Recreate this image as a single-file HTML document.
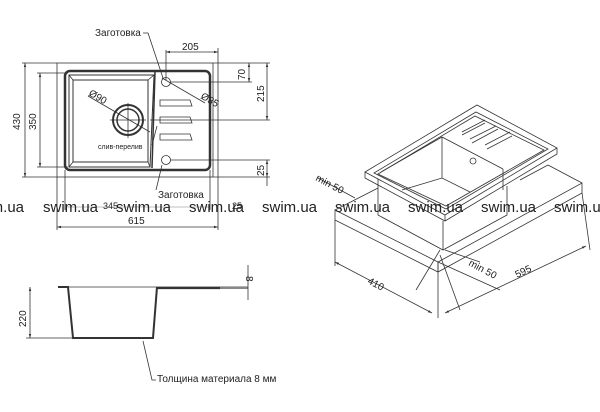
<!DOCTYPE html>
<html><head><meta charset="utf-8"><style>
html,body{margin:0;padding:0;background:#fff;width:600px;height:412px;overflow:hidden}
svg{display:block}
text{font-family:"Liberation Sans",sans-serif;fill:#222}
</style></head><body>
<svg width="600" height="412" viewBox="0 0 600 412" xmlns="http://www.w3.org/2000/svg">
<defs><marker id="a" markerWidth="6" markerHeight="6" refX="5" refY="3" orient="auto-start-reverse"><path d="M0,1.5 L5,3 L0,4.5 z" fill="#333"/></marker></defs>
<g stroke="#333" fill="none" stroke-width="0.8">
<rect x="57" y="63" width="156" height="114"/>
<rect x="65" y="71" width="145" height="99" rx="5" stroke-width="2.5"/>
<path d="M69,75 H154 L150,167 H69 Z" stroke-width="1"/>
<path d="M73,80 H148 V162 H73 Z" stroke-width="1"/>
<path d="M69,75 L73,80 M154,75 L148,80 M69,167 L73,162 M150,167 L148,162"/>
<line x1="155" y1="72" x2="152" y2="168" stroke-width="1.5"/>
<circle cx="128" cy="120" r="15" stroke-width="2"/>
<circle cx="128" cy="120" r="11" stroke-width="1.5"/>
<line x1="88" y1="96" x2="150" y2="132"/>
<line x1="128" y1="103" x2="128" y2="138"/>
<line x1="110" y1="120" x2="146" y2="120"/>
<circle cx="166" cy="82" r="4.5"/><circle cx="166" cy="160" r="4.5"/>
<path d="M160,100 H190 L192,106 H160 Z"/>
<path d="M160,117 H190 L192,123 H160 Z"/>
<path d="M160,134 H190 L192,140 H160 Z"/>
<path d="M154,100 v12"/>
<line x1="166" y1="52" x2="218" y2="52" marker-start="url(#a)" marker-end="url(#a)"/>
<line x1="218" y1="48" x2="218" y2="230"/>
<line x1="166" y1="50" x2="166" y2="80"/>
<line x1="213" y1="63" x2="270" y2="63"/>
<line x1="170" y1="82" x2="252" y2="82"/>
<line x1="150" y1="120" x2="270" y2="120"/>
<line x1="170" y1="160" x2="270" y2="160"/>
<line x1="213" y1="177" x2="270" y2="177"/>
<line x1="249" y1="63" x2="249" y2="82" marker-start="url(#a)" marker-end="url(#a)"/>
<line x1="267" y1="63" x2="267" y2="120" marker-start="url(#a)" marker-end="url(#a)"/>
<line x1="267" y1="160" x2="267" y2="177" marker-start="url(#a)" marker-end="url(#a)"/>
<line x1="267" y1="177" x2="267" y2="186"/>
<line x1="25" y1="63" x2="25" y2="177" marker-start="url(#a)" marker-end="url(#a)"/>
<line x1="22" y1="63" x2="57" y2="63"/><line x1="22" y1="177" x2="57" y2="177"/>
<line x1="40" y1="73" x2="40" y2="167" marker-start="url(#a)" marker-end="url(#a)"/>
<line x1="37" y1="73" x2="68" y2="73"/><line x1="37" y1="167" x2="68" y2="167"/>
<line x1="57" y1="177" x2="57" y2="230"/>
<line x1="65" y1="170" x2="65" y2="210"/>
<line x1="57" y1="227" x2="218" y2="227" marker-start="url(#a)" marker-end="url(#a)"/>
<line x1="65" y1="207" x2="210" y2="207" stroke="#aaa"/>
<line x1="210" y1="170" x2="210" y2="210"/>
<path d="M143,33 H148 L163,78"/>
<path d="M156,190 L162,165"/>
<path d="M152,145 L157,126"/>
<line x1="162" y1="78" x2="205" y2="103"/>
<line x1="58" y1="287" x2="248" y2="287"/>
<path d="M58,287 H68 L73,338 H153 L157,287" stroke-width="2"/>
<line x1="157" y1="288" x2="220" y2="288" stroke-width="2.2"/>
<line x1="220" y1="288" x2="248" y2="288" stroke="#888" stroke-width="2"/>
<line x1="26" y1="338" x2="73" y2="338"/>
<line x1="30" y1="287" x2="30" y2="338" marker-start="url(#a)" marker-end="url(#a)"/>
<line x1="248" y1="265" x2="248" y2="300"/>
<path d="M143,341 L152,380 H156"/>
<path d="M335,210 L438,262 L582,183 L582,193 L438,272 L335,220 Z" fill="#fff"/>
<line x1="438" y1="262" x2="438" y2="272"/>
<path d="M335,210 L380,187 M582,183 L548,165"/>
<path d="M380,187 L390,192 M548,165 L520,180"/>
<path d="M378,178 V215 L443,250 L507,215 V186" fill="#fff"/>
<line x1="443" y1="221" x2="443" y2="250"/>
<path d="M365,172 L477,105 L557,148 L445,215 Z" fill="#fff"/>
<path d="M365,172 V178 L445,221 L557,154 V148"/>
<line x1="445" y1="215" x2="445" y2="221"/>
<path d="M374,173 L476,112 L548,149 L446,209 Z"/>
<path d="M378,174 L475,116 L544,150 L446,206 Z"/>
<path d="M381,172 L442,137 L503,169"/>
<line x1="442" y1="137" x2="442" y2="178"/>
<path d="M402,190 L442,178 L470,192"/>
<line x1="503" y1="169" x2="503" y2="190"/>
<circle cx="473" cy="161" r="3"/>
<path d="M462,132 L485,120 M470,139 L496,126 M485,145 L510,132 M462,135 L485,123 M472,143 L498,129 M487,149 L512,136"/>
<line x1="318" y1="178" x2="355" y2="198"/>
<line x1="335" y1="262" x2="432" y2="313" marker-start="url(#a)" marker-end="url(#a)"/>
<line x1="335" y1="220" x2="335" y2="266"/>
<line x1="438" y1="262" x2="438" y2="318"/>
<line x1="445" y1="313" x2="586" y2="246" marker-start="url(#a)" marker-end="url(#a)"/>
<line x1="582" y1="193" x2="590" y2="250"/>
<path d="M438,262 L500,290 M445,250 L480,262"/>
<line x1="416" y1="290" x2="440" y2="250"/>
<line x1="460" y1="310" x2="440" y2="255"/>
</g>
<g font-size="10">
<text x="95" y="36">Заготовка</text>
<text x="158" y="198">Заготовка</text>
<text x="98" y="149" font-size="7">слив-перелив</text>
<text x="182" y="50">205</text>
<text x="128" y="224">615</text>
<text x="200" y="98" transform="rotate(30 200 98)">Ø35</text>
<text x="88" y="95" transform="rotate(30 88 95)">Ø90</text>
<text x="20" y="130" transform="rotate(-90 20 130)">430</text>
<text x="36" y="130" transform="rotate(-90 36 130)">350</text>
<text x="245" y="80" transform="rotate(-90 245 80)">70</text>
<text x="264" y="102" transform="rotate(-90 264 102)">215</text>
<text x="264" y="176" transform="rotate(-90 264 176)">25</text>
<text x="26" y="327" transform="rotate(-90 26 327)">220</text>
<text x="246" y="276" transform="rotate(90 246 276)">8</text>
<text x="157" y="382">Толщина материала 8 мм</text>
<text x="315" y="180" transform="rotate(28 315 180)">min 50</text>
<text x="468" y="265" transform="rotate(28 468 265)">min 50</text>
<text x="367" y="283" transform="rotate(28 367 283)">410</text>
<text x="517" y="278" transform="rotate(-25 517 278)">595</text>
<text x="103" y="209" fill="#aaa" font-size="9">345</text>
<text x="232" y="209" fill="#aaa" font-size="9">25</text>
</g>
<g font-size="15">
<text x="-31" y="212" fill="#666">swim.ua</text>
<text x="43" y="212" fill="#666">swim.ua</text>
<text x="116" y="212" fill="#666">swim.ua</text>
<text x="189" y="212" fill="#666">swim.ua</text>
<text x="262" y="212" fill="#666">swim.ua</text>
<text x="335" y="212" fill="#666">swim.ua</text>
<text x="408" y="212" fill="#666">swim.ua</text>
<text x="481" y="212" fill="#666">swim.ua</text>
<text x="554" y="212" fill="#666">swim.ua</text>
</g>
</svg>
</body></html>
